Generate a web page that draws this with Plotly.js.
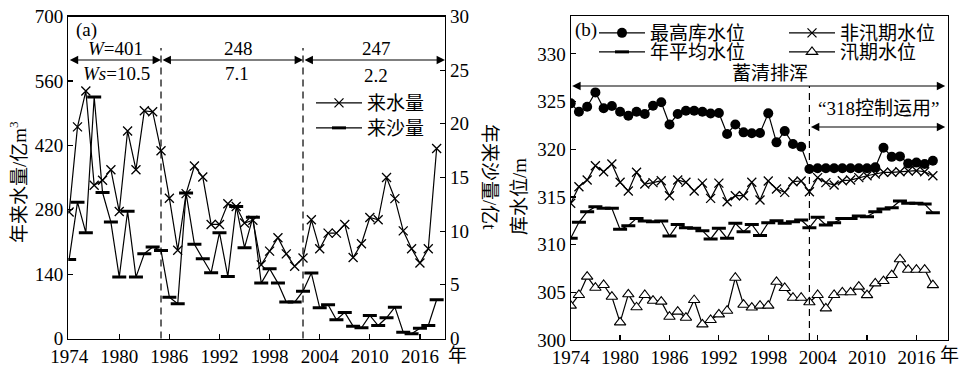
<!DOCTYPE html>
<html><head><meta charset="utf-8">
<script src="https://cdn.plot.ly/plotly-3.0.1.min.js"></script>
<style>html,body{margin:0;padding:0;background:#fff}#chart{width:962px;height:367px}</style>
</head><body><div id="chart"></div>
<script>
// ---------- data ----------
const years = [1974,1975,1976,1977,1978,1979,1980,1981,1982,1983,1984,1985,1986,1987,1988,1989,1990,1991,1992,1993,1994,1995,1996,1997,1998,1999,2000,2001,2002,2003,2004,2005,2006,2007,2008,2009,2010,2011,2012,2013,2014,2015,2016,2017,2018];
// panel (a): annual inflow water (1e8 m3) and sediment (1e8 t)
const water = [275,460,538,333,344,367,276,451,367,495,493,408,305,192,315,375,351,248,248,293,287,251,257,160,190,219,184,157,175,258,195,229,229,248,176,206,263,258,350,304,234,195,164,195,413];
const sediment = [7.37,12.7,9.86,22.5,13.6,10.85,5.72,11.85,5.72,7.9,8.52,8.2,3.85,3.23,13.55,8.77,7.43,6.13,9.86,5.78,12.3,8.46,11.3,5.16,6.5,5.16,3.39,3.39,4.41,6.1,2.86,3.14,1.74,2.43,1.15,1.0,2.15,1.21,1.93,2.92,0.59,0.44,0.96,1.21,3.61];
// panel (b): reservoir levels (m)
const maxLevel = [324.81,323.93,324.46,325.96,324.29,324.53,323.93,323.51,323.93,323.69,324.56,324.92,322.6,323.69,324.04,324.04,323.93,323.75,323.8,321.6,322.6,321.77,321.67,321.7,323.76,320.72,321.9,320.55,320.26,317.92,318.0,318.0,318.0,318.0,318.0,318.0,318.0,318.1,320.16,319.2,319.25,318.5,318.6,318.45,318.8];
const nonFlood = [314.33,316.07,316.77,318.27,317.64,318.45,316.53,315.62,317.58,316.35,316.5,316.7,315.13,316.77,316.53,315.62,316.45,314.85,316.45,314.5,315.13,315.13,316.53,314.68,316.67,315.83,315.48,316.6,316.67,315.55,317.02,316.5,316.25,316.7,316.77,317.02,317.22,317.4,317.58,317.58,317.64,317.71,317.75,317.64,317.22];
const meanLevel = [310.66,312.34,313.45,313.98,313.8,313.8,311.6,311.98,312.75,312.47,312.4,312.47,310.9,312.12,311.78,311.71,311.46,310.59,311.71,310.66,312.23,311.36,312.12,310.95,312.3,312.5,312.23,312.4,312.58,311.78,312.86,312.05,312.3,312.75,312.75,313.0,312.93,313.45,313.73,313.87,314.57,314.33,314.33,314.26,313.35];
const floodLevel = [303.6,304.72,306.64,305.48,305.77,304.54,301.85,304.79,303.43,304.72,304.12,304.02,302.44,302.97,302.34,304.19,301.64,302.1,302.69,303.07,306.53,303.7,303.4,303.6,303.6,306.1,305.45,304.43,304.43,303.95,304.72,303.32,304.72,305.0,305.0,305.6,304.7,305.94,306.18,306.81,308.47,307.37,307.37,307.37,305.75];

const xTicks = [1974,1980,1986,1992,1998,2004,2010,2016];
const yTicksA = [0,140,280,420,560,700];
const y2TicksA = [0,5,10,15,20,25,30];
const yTicksB = [300,305,310,315,320,325,330];
const periodBreaksA = [1985, 2002];
const periodBreakB = 2003;
const periodLabelsW = ['<i>W</i>=401', '248', '247'];
const periodLabelsWs = ['<i>Ws</i>=10.5', '7.1', '2.2'];

// ---------- layout helpers ----------
const W = 962, H = 367;
const px = x => x / W;
const py = y => 1 - y / H;
const FONT = 'Liberation Serif, Noto Sans CJK SC, serif';
const K = '#000';
const line = {color: K, width: 1.2};

const traces = [
  {x: years, y: water, xaxis: 'x', yaxis: 'y', mode: 'lines+markers', name: '来水量', line: line,
   marker: {symbol: 'x-thin', size: 9, color: K, line: {width: 1.3, color: K}}, legend: 'legend'},
  {x: years, y: sediment, xaxis: 'x', yaxis: 'y2', mode: 'lines+markers', name: '来沙量', line: line,
   marker: {symbol: 'line-ew', size: 10, color: K, line: {width: 3, color: K}}, legend: 'legend2'},
  {x: years, y: maxLevel, xaxis: 'x2', yaxis: 'y3', mode: 'lines+markers', name: '最高库水位', line: line,
   marker: {symbol: 'circle', size: 10, color: K}, legend: 'legend3'},
  {x: years, y: meanLevel, xaxis: 'x2', yaxis: 'y3', mode: 'lines+markers', name: '年平均水位', line: line,
   marker: {symbol: 'line-ew', size: 10, color: K, line: {width: 3, color: K}}, legend: 'legend4'},
  {x: years, y: nonFlood, xaxis: 'x2', yaxis: 'y3', mode: 'lines+markers', name: '非汛期水位', line: line,
   marker: {symbol: 'x-thin', size: 9, color: K, line: {width: 1.3, color: K}}, legend: 'legend5'},
  {x: years, y: floodLevel, xaxis: 'x2', yaxis: 'y3', mode: 'lines+markers', name: '汛期水位', line: line,
   marker: {symbol: 'triangle-up', size: 10, color: '#fff', line: {width: 1.1, color: K}}, legend: 'legend6'}
];

const tickFont = {family: FONT, size: 19, color: K};
const axisBase = {showline: true, linecolor: K, linewidth: 1.2, ticks: 'inside', ticklen: 5, tickwidth: 1.2,
  tickcolor: K, showgrid: false, zeroline: false, tickfont: tickFont, fixedrange: true};

function legendAt(x, y) {
  return {x: px(x), y: py(y), xanchor: 'left', yanchor: 'middle', bgcolor: 'rgba(0,0,0,0)', borderwidth: 0,
    font: {family: FONT, size: 19, color: K}, itemwidth: 46, tracegroupgap: 0};
}

function arrow(xref, x0, x1, y) {
  return {xref: xref, yref: 'paper', x: x1, y: py(y), ax: x0, axref: xref, ay: 0, ayref: 'pixel',
    text: '', showarrow: true, arrowhead: 2, startarrowhead: 2, arrowside: 'end+start',
    arrowsize: 1.4, startarrowsize: 1.4, arrowwidth: 1.2, arrowcolor: K, standoff: 0, startstandoff: 0};
}
function label(text, x, y, size, angle) {
  return {xref: 'paper', yref: 'paper', x: px(x), y: py(y), text: text, showarrow: false,
    xanchor: 'center', yanchor: 'middle', textangle: angle || 0, font: {family: FONT, size: size || 19, color: K}};
}

const xRangeA = [1973.9, 2019];
const xRangeB = [1974, 2019.8];

const layout = {
  width: W, height: H, margin: {l: 0, r: 0, t: 0, b: 0, pad: 0},
  paper_bgcolor: '#fff', plot_bgcolor: 'rgba(0,0,0,0)', font: {family: FONT, color: K},
  showlegend: true,
  xaxis: Object.assign({}, axisBase, {domain: [px(68.3), px(445)], anchor: 'y', range: xRangeA, tickvals: xTicks, mirror: true}),
  yaxis: Object.assign({}, axisBase, {domain: [py(338.5), py(16.5)], anchor: 'x', range: [0, 700], tickvals: yTicksA}),
  yaxis2: Object.assign({}, axisBase, {overlaying: 'y', side: 'right', anchor: 'x', range: [0, 30], tickvals: y2TicksA}),
  xaxis2: Object.assign({}, axisBase, {domain: [px(570.7), px(947.7)], anchor: 'y3', range: xRangeB, tickvals: xTicks, mirror: true}),
  yaxis3: Object.assign({}, axisBase, {domain: [py(340), py(15.7)], anchor: 'x2', range: [300, 334], tickvals: yTicksB, mirror: true}),
  legend: legendAt(311, 103),
  legend2: legendAt(311, 128),
  legend3: legendAt(594, 33),
  legend4: legendAt(594, 52),
  legend5: legendAt(784, 33),
  legend6: legendAt(784, 52),
  shapes: [
    {type: 'line', xref: 'x', yref: 'paper', x0: periodBreaksA[0], x1: periodBreaksA[0], y0: py(338.5), y1: py(48), line: {color: K, width: 1.2, dash: '7px,5px'}},
    {type: 'line', xref: 'x', yref: 'paper', x0: periodBreaksA[1], x1: periodBreaksA[1], y0: py(338.5), y1: py(48), line: {color: K, width: 1.2, dash: '7px,5px'}},
    {type: 'line', xref: 'x2', yref: 'paper', x0: periodBreakB, x1: periodBreakB, y0: py(340), y1: py(86), line: {color: K, width: 1.2, dash: '7px,5px'}}
  ],
  annotations: [
    arrow('x', xRangeA[0], periodBreaksA[0], 60),
    arrow('x', periodBreaksA[0], periodBreaksA[1], 60),
    arrow('x', periodBreaksA[1], xRangeA[1], 60),
    arrow('x2', xRangeB[0], 2019.5, 86),
    arrow('x2', periodBreakB, 2019.5, 127),
    label('(a)', 86, 30, 19),
    label(periodLabelsW[0], 115.5, 49, 19),
    label(periodLabelsWs[0], 116, 74, 19),
    label(periodLabelsW[1], 238, 49, 19),
    label(periodLabelsWs[1], 237, 74, 19),
    label(periodLabelsW[2], 376, 49, 19),
    label(periodLabelsWs[2], 375.5, 75, 19),
    label('年', 457, 355, 19),
    label('(b)', 586, 30, 19),
    label('蓄清排浑', 770, 74, 19),
    label('“318控制运用”', 878, 108, 19),
    label('年', 949, 355, 19),
    label('年来水量/亿m<sup>3</sup>', 18, 182, 19, -90),
    label('年来沙量/亿t', 490, 177, 19, 90),
    label('库水位/m', 519, 197, 19, -90)
  ]
};

Plotly.newPlot('chart', traces, layout, {staticPlot: true, displayModeBar: false});
</script>
</body></html>
